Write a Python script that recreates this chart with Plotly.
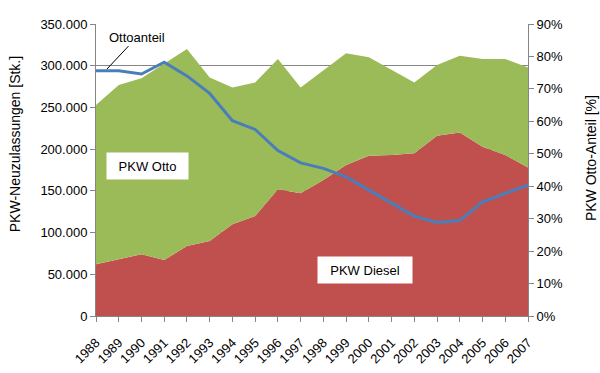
import plotly.graph_objects as go

years = list(range(1988, 2008))
diesel = [62000, 68000, 74000, 67000, 84000, 90000, 110000, 120000, 152000, 147000,
          163000, 181000, 192000, 193000, 195000, 216000, 220000, 203000, 193000, 178000]
total = [253000, 277000, 285000, 303000, 320000, 286000, 274000, 280000, 308000, 274000,
         295000, 315000, 310000, 295000, 280000, 301000, 312000, 308000, 308000, 298000]
otto = [t - d for t, d in zip(total, diesel)]
otto_share = [75.6, 75.6, 74.6, 78.2, 74.0, 68.6, 60.2, 57.5, 51.0, 47.2,
              45.5, 42.9, 38.8, 34.7, 30.8, 28.8, 29.4, 35.2, 37.8, 40.4]
left_ticks = list(range(0, 350001, 50000))
right_ticks = list(range(0, 91, 10))
right_labels = [f"{v}%" for v in right_ticks]

FONT = "Liberation Sans, Arial, sans-serif"
GREEN = "#9BBB59"
RED = "#C0504D"
BLUE = "#4A7EBB"
GRID = "#868686"

fig = go.Figure()
fig.add_trace(go.Scatter(x=years, y=diesel, stackgroup="one", mode="lines",
                         line=dict(width=0, color=RED), fillcolor=RED, name="PKW Diesel",
                         hoverinfo="skip"))
fig.add_trace(go.Scatter(x=years, y=otto, stackgroup="one", mode="lines",
                         line=dict(width=0, color=GREEN), fillcolor=GREEN, name="PKW Otto",
                         hoverinfo="skip"))
fig.add_trace(go.Scatter(x=years, y=otto_share, mode="lines", yaxis="y2",
                         line=dict(width=3, color=BLUE), name="Ottoanteil",
                         hoverinfo="skip"))

fig.update_layout(
    width=600, height=373,
    margin=dict(l=96, r=72, t=24, b=57, autoexpand=False),
    paper_bgcolor="white", plot_bgcolor="white",
    showlegend=False,
    separators=",.",
    font=dict(family=FONT, size=13, color="#000000"),
    xaxis=dict(range=[1988, 2007], tickmode="array", tickvals=years,
               ticktext=[str(y) for y in years], tickangle=-45,
               showgrid=False, showline=True, linecolor=GRID, linewidth=1,
               ticks="outside", ticklen=5, tickcolor=GRID, zeroline=False,
               tickfont=dict(size=13), automargin=False, ticklabelstandoff=8),
    yaxis=dict(range=[0, 350000], tickmode="array", tickvals=left_ticks,
               tickformat=",d", showgrid=True, gridcolor=GRID, gridwidth=1,
               showline=True, linecolor=GRID, linewidth=1, ticks="outside",
               ticklen=5, tickcolor=GRID, zeroline=False, tickfont=dict(size=13),
               automargin=False),
    yaxis2=dict(range=[0, 90], tickmode="array", tickvals=right_ticks,
                ticktext=right_labels, overlaying="y", side="right", showgrid=False,
                showline=True, linecolor=GRID, linewidth=1, ticks="outside",
                ticklen=5, tickcolor=GRID, zeroline=False, tickfont=dict(size=13),
                automargin=False),
)

fig.add_annotation(text="PKW-Neuzulassungen [Stk.]", xref="paper", yref="paper",
                   x=-0.187, y=0.589, showarrow=False, textangle=-90,
                   font=dict(size=14), xanchor="center", yanchor="middle")
fig.add_annotation(text="PKW Otto-Anteil [%]", xref="paper", yref="paper",
                   x=1.146, y=0.541, showarrow=False, textangle=-90,
                   font=dict(size=14), xanchor="center", yanchor="middle")
fig.add_annotation(text="Ottoanteil", xref="x", yref="y2", x=1988.48, y=76.1,
                   ax=30, ay=-32, showarrow=True, arrowhead=0, arrowwidth=1,
                   arrowcolor="#000000", font=dict(size=13), standoff=0)
fig.add_annotation(text="PKW Otto", xref="x", yref="y", x=1990.25, y=179900,
                   showarrow=False, bgcolor="white", width=79, height=24,
                   font=dict(size=13))
fig.add_annotation(text="PKW Diesel", xref="x", yref="y", x=1999.85, y=55200,
                   showarrow=False, bgcolor="white", width=92, height=24,
                   font=dict(size=13))

fig.write_html("out.html", config={"displayModeBar": False},
               post_script="document.body.style.margin='0';document.body.style.overflow='hidden';")
